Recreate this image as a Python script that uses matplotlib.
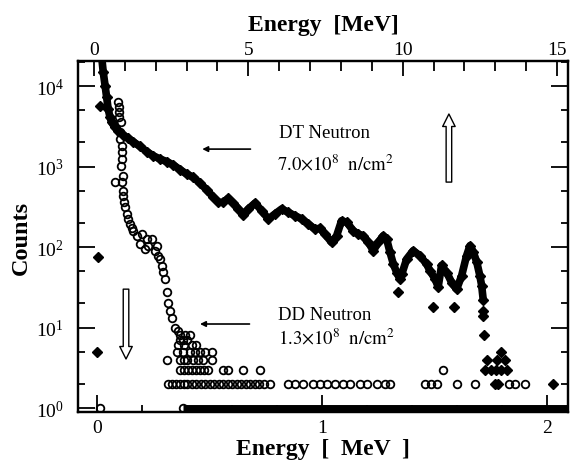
import matplotlib
matplotlib.use('Agg')

import matplotlib.pyplot as plt
from matplotlib.ticker import MultipleLocator, LogLocator, NullFormatter

plt.rcParams['font.family'] = ['Liberation Serif', 'DejaVu Serif']
plt.rcParams['mathtext.fontset'] = 'stix'

# DT neutron spectrum, main trace (top axis energy in MeV)
dt_energy = [0.24, 0.30, 0.36, 0.41, 0.46, 0.52, 0.57, 0.68, 0.79, 0.95,
             1.11, 1.27, 1.49, 1.71, 1.92, 2.14, 2.36, 2.57, 2.79, 3.00,
             3.22, 3.43, 3.65, 3.87, 4.03, 4.19, 4.35, 4.51, 4.68, 4.84,
             5.00, 5.22, 5.43, 5.65, 5.86, 6.08, 6.29, 6.51, 6.73, 6.94,
             7.16, 7.32, 7.48, 7.70, 7.86, 8.02, 8.19, 8.40, 8.56, 8.72,
             8.89, 9.05, 9.21, 9.37, 9.48, 9.59, 9.70, 9.81, 9.91, 9.97,
             10.13, 10.34, 10.56, 10.78, 10.88, 11.05, 11.15, 11.26, 11.43, 11.59,
             11.75, 11.91, 12.07, 12.18, 12.29, 12.40, 12.50, 12.56, 12.61]
dt_counts = [25000, 14800, 10100, 7250, 5180, 4080, 3540, 3070, 2790, 2460,
             2240, 2030, 1780, 1530, 1360, 1240, 1150, 1045, 913, 807,
             734, 624, 515, 414, 359, 359, 403, 352, 297, 250,
             297, 352, 283, 223, 257, 297, 270, 245, 223, 193,
             167, 171, 145, 114, 138, 212, 203, 159, 145, 138,
             114, 90, 114, 138, 126, 86, 61, 48, 40, 46,
             71, 90, 78, 61, 51, 40, 32, 59, 48, 36,
             30, 44, 78, 104, 86, 65, 44, 33, 22]

# DT isolated points
dt_iso_energy = [0.19, 0.13, 0.10, 9.85, 10.98, 11.66, 12.61, 12.61, 12.64,
                 12.73, 13.05, 13.31, 13.18,
                 12.67, 12.85, 13.03, 13.20, 13.38,
                 12.99, 13.08, 14.87]
dt_iso_counts = [5650, 75, 5, 28, 18, 18, 16, 14, 8,
                 4, 4, 4, 5,
                 3, 3, 3, 3, 3,
                 2, 2, 2]

# DD neutron spectrum (bottom axis energy in MeV)
dd_energy = [0.093, 0.100, 0.100, 0.098, 0.107, 0.102, 0.102, 0.111, 0.111, 0.111,
             0.107, 0.116, 0.080, 0.111, 0.116, 0.116, 0.120, 0.124, 0.133, 0.138,
             0.147, 0.156, 0.160, 0.178, 0.191, 0.200, 0.213, 0.222, 0.227, 0.244,
             0.258, 0.267, 0.271, 0.280, 0.289, 0.293, 0.302, 0.311, 0.316, 0.324,
             0.333, 0.347, 0.360, 0.369]
dd_counts = [6300, 5500, 4750, 4100, 3550, 2700, 2200, 1800, 1515, 1240,
             1015, 760, 640, 640, 500, 430, 362, 314, 257, 223,
             193, 170, 158, 137, 110, 145, 94, 126, 103, 126,
             90, 103, 77, 71, 58, 49, 40, 28, 20, 16,
             13, 10, 9, 7]

# DD low-count rows
dd_low_energy = [0.369, 0.391, 0.413, 0.380, 0.400,
                 0.360, 0.387, 0.420, 0.440,
                 0.356, 0.382, 0.413, 0.436, 0.458, 0.480, 0.511,
                 0.311, 0.369, 0.387, 0.400, 0.427, 0.449, 0.470, 0.511,
                 0.369, 0.387, 0.405, 0.422, 0.440, 0.458, 0.476, 0.493,
                 0.560, 0.582, 0.649, 0.724, 1.538]
dd_low_counts = [8, 8, 8, 7, 7,
                 6, 6, 6, 6,
                 5, 5, 5, 5, 5, 5, 5,
                 4, 4, 4, 4, 4, 4, 4, 4,
                 3, 3, 3, 3, 3, 3, 3, 3,
                 3, 3, 3, 3, 3]
dd_two_energy = [0.316, 0.333, 0.351, 0.369, 0.387, 0.40, 0.42, 0.44, 0.46, 0.48,
                 0.50, 0.52, 0.54, 0.56, 0.58, 0.60, 0.62, 0.64, 0.66, 0.68,
                 0.70, 0.72, 0.74, 0.769, 0.849, 0.880, 0.916, 0.960, 0.991, 1.022,
                 1.058, 1.093, 1.124, 1.169, 1.200, 1.244, 1.280, 1.302, 1.458, 1.484,
                 1.511, 1.600, 1.680, 1.778, 1.831, 1.858, 1.902]
dd_one_energy = [0.015, 0.382]
dd_floor_start = 0.382
dd_floor_end = 2.093

fig = plt.figure(figsize=(5.71, 4.64), dpi=100)
ax = fig.add_axes([0.1366, 0.1099, 0.8581, 0.7565])
ax.set_yscale('log')
ax.set_xlim(-0.0844, 2.093)
ax.set_ylim(0.892, 20460)

# DD data (open circles)
ax.hlines(1, dd_floor_start, dd_floor_end, color='black', lw=5)
circ = dict(ls='none', marker='o', ms=5.5, mfc='none', mec='black', mew=1.3)
ax.plot(dd_energy, dd_counts, **circ)
ax.plot(dd_low_energy, dd_low_counts, **circ)
ax.plot(dd_two_energy, [2] * len(dd_two_energy), **circ)
ax.plot(dd_one_energy, [1] * len(dd_one_energy), **circ)

# DT data on the top energy scale
ax2 = ax.twiny()
ax2.set_xlim(-0.518, 15.355)
ax2.plot(dt_energy, dt_counts, '-D', color='black', lw=5.5, ms=5, solid_capstyle='round',
         solid_joinstyle='round')
ax2.plot(dt_iso_energy, dt_iso_counts, 'D', color='black', ms=5, ls='none')

# ticks
ax.xaxis.set_major_locator(MultipleLocator(1))
ax.xaxis.set_minor_locator(MultipleLocator(0.2))
ax.yaxis.set_major_locator(LogLocator(base=10))
ax.yaxis.set_minor_locator(LogLocator(base=10, subs=(2, 5)))
ax.yaxis.set_minor_formatter(NullFormatter())
ax.tick_params(which='both', direction='in', top=False, right=True, width=1.3)
ax.tick_params(which='major', length=12, labelsize=14)
ax.tick_params(which='minor', length=5)
ax.tick_params(axis='y', pad=10)
ax.tick_params(axis='x', pad=5)

ax2.xaxis.set_major_locator(MultipleLocator(5))
ax2.xaxis.set_minor_locator(MultipleLocator(1))
ax2.tick_params(which='both', direction='in', width=1.3)
ax2.tick_params(which='major', length=11, labelsize=14, pad=2)
ax2.tick_params(which='minor', length=7)

for a in (ax, ax2):
    for s in a.spines.values():
        s.set_linewidth(1.6)

# labels
ax.set_ylabel('Counts', fontsize=17.5, fontweight='bold')
ax.yaxis.set_label_coords(-0.095, 0.5)
ax.set_xlabel('Energy  [  MeV  ]', fontsize=17, fontweight='bold')
ax.xaxis.set_label_coords(0.5, -0.075)
ax2.set_xlabel('Energy  [MeV]', fontsize=17, fontweight='bold')
ax2.xaxis.set_label_coords(0.5, 1.088)

# annotations
ax.text(0.411, 0.7835, 'DT Neutron', transform=ax.transAxes, fontsize=13.5)
ax.text(0.407, 0.692, r'$\mathrm{7.0{\times}10^{8}\ \ n/cm^{2}}$', transform=ax.transAxes, fontsize=13.5)
ax.text(0.409, 0.265, 'DD Neutron', transform=ax.transAxes, fontsize=13.5)
ax.text(0.409, 0.194, r'$\mathrm{1.3{\times}10^{8}\ \ n/cm^{2}}$', transform=ax.transAxes, fontsize=13.5)

thin = dict(arrowstyle='-|>', color='black', lw=1.2, mutation_scale=8, shrinkA=0, shrinkB=0)
ax.annotate('', xy=(0.2536, 0.749), xytext=(0.352, 0.749), xycoords='axes fraction', arrowprops=thin)
ax.annotate('', xy=(0.249, 0.2507), xytext=(0.350, 0.2507), xycoords='axes fraction', arrowprops=thin)

hollow = dict(arrowstyle='simple,head_width=0.9,head_length=0.9,tail_width=0.4',
              fc='white', ec='black', lw=1.0, mutation_scale=10, shrinkA=0, shrinkB=0)
ax.annotate('', xy=(0.757, 0.849), xytext=(0.757, 0.655), xycoords='axes fraction', arrowprops=hollow)
ax.annotate('', xy=(0.098, 0.151), xytext=(0.098, 0.350), xycoords='axes fraction', arrowprops=hollow)

fig.savefig('out.png', dpi=100)
